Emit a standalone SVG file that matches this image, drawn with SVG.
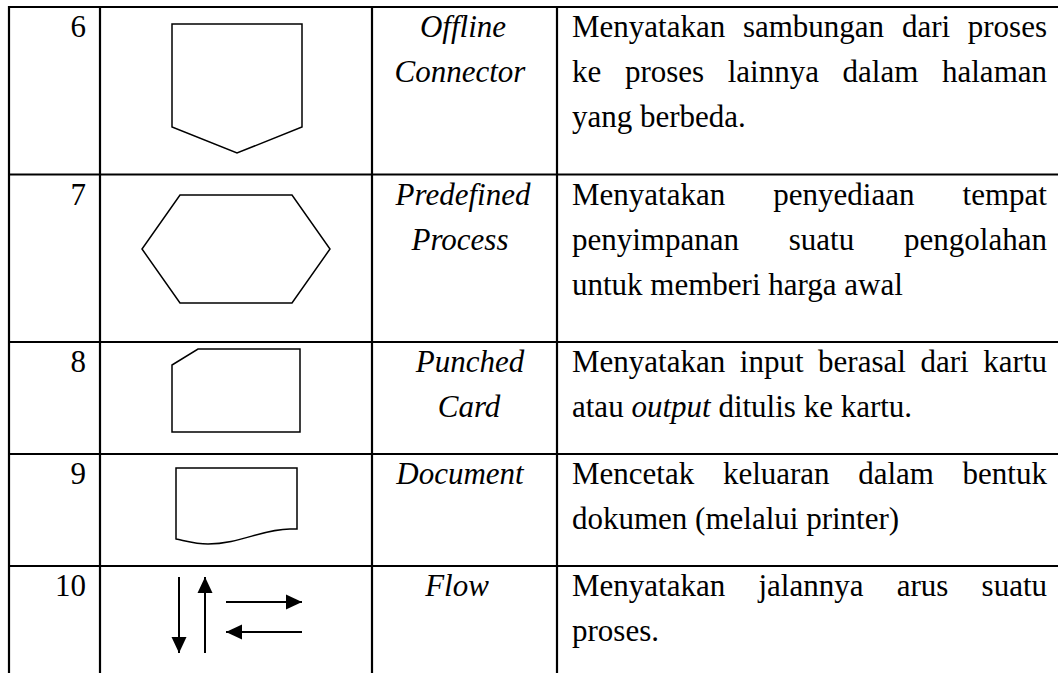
<svg xmlns="http://www.w3.org/2000/svg" width="1058" height="673" viewBox="0 0 1058 673">
<style>
.grid{stroke:#000;stroke-width:2.2;fill:none}
.shape{stroke:#000;stroke-width:1.5;fill:none;stroke-linejoin:miter}
.arrow{stroke:#000;stroke-width:2;fill:none}
.t{font-family:"Liberation Serif","Times New Roman",serif;font-size:31px;fill:#000}
.num{text-anchor:end}
.lab{font-style:italic;text-anchor:middle}
.it{font-style:italic}
</style>
<defs>
<marker id="ah" markerUnits="userSpaceOnUse" markerWidth="17" markerHeight="16" refX="16" refY="8" orient="auto">
<path d="M0,0.5 L16,8 L0,15.5 Z" fill="#000"/>
</marker>
</defs>
<rect width="1058" height="673" fill="#fff"/>
<g id="table-grid" class="grid">
<line x1="8" y1="7" x2="1058" y2="7"/>
<line x1="8" y1="174.5" x2="1058" y2="174.5"/>
<line x1="8" y1="342" x2="1058" y2="342"/>
<line x1="8" y1="454" x2="1058" y2="454"/>
<line x1="8" y1="566" x2="1058" y2="566"/>
<line x1="9" y1="6" x2="9" y2="673"/>
<line x1="100" y1="6" x2="100" y2="673"/>
<line x1="372" y1="6" x2="372" y2="673"/>
<line x1="557" y1="6" x2="557" y2="673"/>
</g>
<g id="row6">
<text class="t num" x="86" y="37">6</text>
<polygon class="shape" points="172,24 302,24 302,127 237,153 172,127"/>
<text class="t lab" x="463" y="37">Offline</text>
<text class="t lab" x="460" y="82">Connector</text>
<text class="t" y="37"><tspan x="572">Menyatakan</tspan><tspan x="742.9">sambungan</tspan><tspan x="901.9">dari</tspan><tspan x="967.8">proses</tspan></text>
<text class="t" y="82"><tspan x="572">ke</tspan><tspan x="624.9">proses</tspan><tspan x="727.7">lainnya</tspan><tspan x="842.6">dalam</tspan><tspan x="942">halaman</tspan></text>
<text class="t" x="572" y="127">yang berbeda.</text>
</g>
<g id="row7">
<text class="t num" x="86" y="205">7</text>
<polygon class="shape" points="180,195 292,195 330,249 292,303 180,303 142,249"/>
<text class="t lab" x="463" y="205">Predefined</text>
<text class="t lab" x="460" y="250">Process</text>
<text class="t" y="205"><tspan x="572">Menyatakan</tspan><tspan x="773.3">penyediaan</tspan><tspan x="962.6">tempat</tspan></text>
<text class="t" y="250"><tspan x="572">penyimpanan</tspan><tspan x="788.8">suatu</tspan><tspan x="904.1">pengolahan</tspan></text>
<text class="t" x="572" y="295">untuk memberi harga awal</text>
</g>
<g id="row8">
<text class="t num" x="86" y="372">8</text>
<polygon class="shape" points="198,349 300,349 300,432 172,432 172,365"/>
<text class="t lab" x="470" y="372">Punched</text>
<text class="t lab" x="469" y="417">Card</text>
<text class="t" y="372"><tspan x="572">Menyatakan</tspan><tspan x="739.8">input</tspan><tspan x="818.1">berasal</tspan><tspan x="920.5">dari</tspan><tspan x="983.3">kartu</tspan></text>
<text class="t" x="572" y="417">atau <tspan class="it">output</tspan> ditulis ke kartu.</text>
</g>
<g id="row9">
<text class="t num" x="86" y="484">9</text>
<path class="shape" d="M176,468 H297 V529 H290 C262,529 240,544 208,544 C196,544 186,541 176,539 Z"/>
<text class="t lab" x="460" y="484">Document</text>
<text class="t" y="484"><tspan x="572">Mencetak</tspan><tspan x="722.9">keluaran</tspan><tspan x="858.2">dalam</tspan><tspan x="962.6">bentuk</tspan></text>
<text class="t" x="572" y="529">dokumen (melalui printer)</text>
</g>
<g id="row10">
<text class="t num" x="86" y="596">10</text>
<text class="t lab" x="457" y="596">Flow</text>
<text class="t" y="596"><tspan x="572">Menyatakan</tspan><tspan x="758.5">jalannya</tspan><tspan x="896.7">arus</tspan><tspan x="981.6">suatu</tspan></text>
<text class="t" x="572" y="641">proses.</text>
</g>
<g id="connectors" class="arrow">
<line x1="179" y1="577" x2="179" y2="653" marker-end="url(#ah)"/>
<line x1="205" y1="653" x2="205" y2="577" marker-end="url(#ah)"/>
<line x1="226" y1="602" x2="302" y2="602" marker-end="url(#ah)"/>
<line x1="302" y1="632" x2="226" y2="632" marker-end="url(#ah)"/>
</g>
</svg>
